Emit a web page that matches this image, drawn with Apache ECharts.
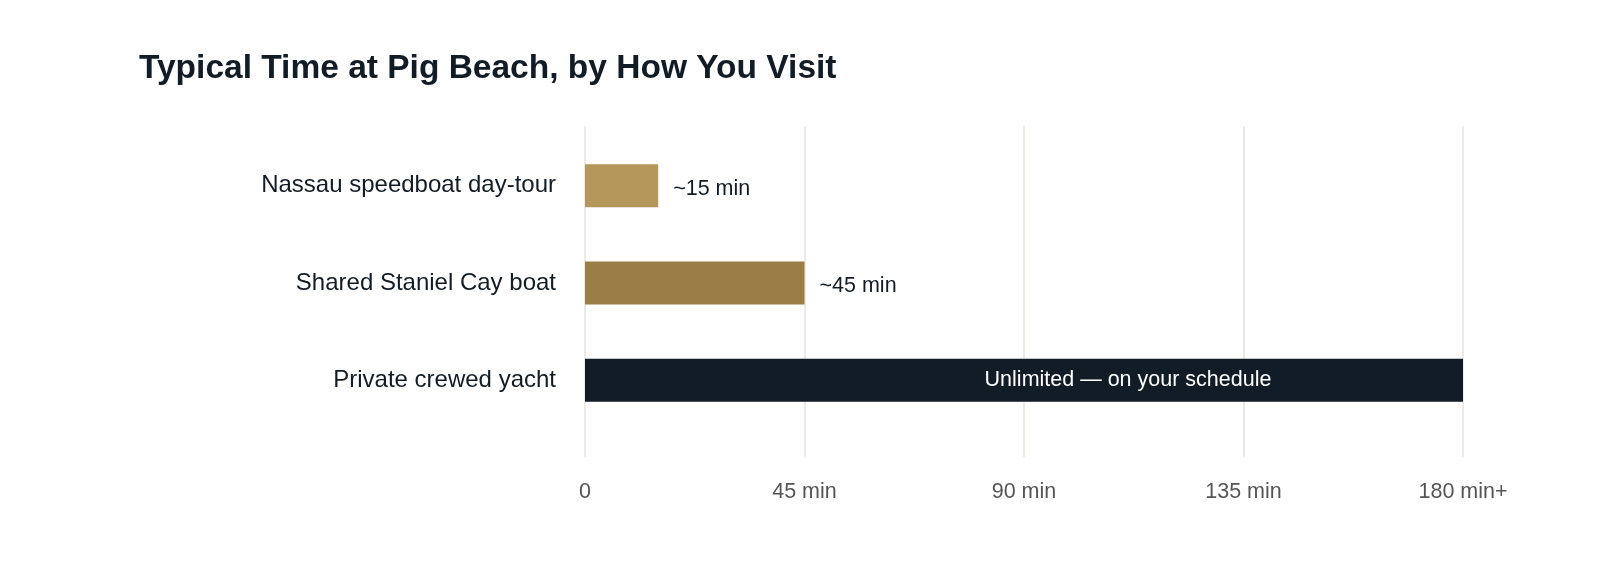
<!DOCTYPE html>
<html>
<head>
<meta charset="utf-8">
<script src="https://cdn.jsdelivr.net/npm/echarts@6/dist/echarts.min.js"></script>
<style>
  html, body { margin: 0; padding: 0; background: #fff; }
  #chart { width: 1600px; height: 585px; }
</style>
</head>
<body>
<div id="chart"></div>
<script>
// 数据
var categories = ['Nassau speedboat day-tour', 'Shared Staniel Cay boat', 'Private crewed yacht'];
var minutes = [15, 45, 180];
var barLabels = ['~15 min', '~45 min', 'Unlimited \u2014 on your schedule'];
var barColors = ['#b5975b', '#9b7e45', '#111c27'];
var tickLabels = ['0', '45 min', '90 min', '135 min', '180 min+'];

var myChart = echarts.init(document.getElementById('chart'));

var seriesData = minutes.map(function (v, i) {
    var inside = i === minutes.length - 1;
    return {
        value: v,
        itemStyle: { color: barColors[i] },
        label: {
            show: true,
            formatter: barLabels[i],
            position: inside ? 'inside' : 'right',
            distance: 15,
            offset: inside ? [104, 0] : [0, 3],
            color: inside ? '#ffffff' : '#111c27',
            fontSize: 21.5
        }
    };
});

var option = {
    backgroundColor: '#ffffff',
    textStyle: { fontFamily: 'Liberation Sans, Arial, sans-serif' },
    title: {
        text: 'Typical Time at Pig Beach, by How You Visit',
        left: 134,
        top: 47,
        textStyle: { fontSize: 33.5, fontWeight: 'bold', color: '#111c27' }
    },
    grid: [
        { left: 585, right: 137, top: 137, height: 292 },
        { left: 585, right: 137, top: 126, height: 331 }
    ],
    xAxis: [{
        gridIndex: 0,
        type: 'value',
        min: 0,
        max: 180,
        interval: 45,
        show: false
    }, {
        gridIndex: 1,
        type: 'value',
        min: 0,
        max: 180,
        interval: 45,
        axisLine: { show: false },
        axisTick: { show: false },
        splitLine: { show: true, lineStyle: { color: '#e6e3db', width: 1.5 } },
        axisLabel: {
            margin: 24,
            fontSize: 21.5,
            color: '#555555',
            formatter: function (v) { return tickLabels[Math.round(v / 45)]; }
        }
    }],
    yAxis: [{
        gridIndex: 0,
        type: 'category',
        inverse: true,
        data: categories,
        axisLine: { show: false },
        axisTick: { show: false },
        axisLabel: { margin: 29, fontSize: 24, color: '#111c27' }
    }, {
        gridIndex: 1,
        type: 'value',
        show: false
    }],
    series: [{
        type: 'bar',
        xAxisIndex: 0,
        yAxisIndex: 0,
        barWidth: 43,
        data: seriesData
    }]
};

myChart.setOption(option);
</script>
</body>
</html>
